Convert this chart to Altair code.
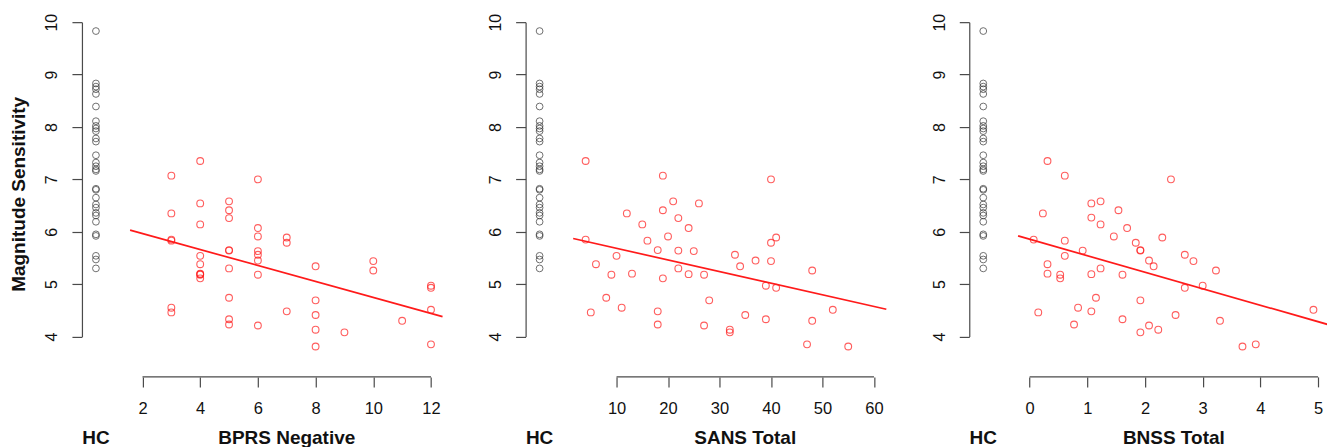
import altair as alt
import pandas as pd

# ---------------- data ----------------
hc_y = [9.83, 8.83, 8.77, 8.72, 8.63, 8.39, 8.11, 8.02, 7.97, 7.92, 7.78, 7.72,
        7.46, 7.32, 7.25, 7.19, 7.16, 6.82, 6.80, 6.65, 6.52, 6.46, 6.36, 6.31,
        6.19, 5.95, 5.92, 5.54, 5.47, 5.30]

bprs_x = [3, 3, 3, 3, 3, 3,
          4, 4, 4, 4, 4, 4, 4, 4, 4,
          5, 5, 5, 5, 5, 5, 5, 5, 5,
          6, 6, 6, 6, 6, 6, 6, 6,
          7, 7, 7,
          8, 8, 8, 8, 8,
          9,
          10, 10,
          11,
          12, 12, 12, 12]
bprs_y = [7.07, 6.35, 5.85, 5.83, 4.55, 4.46,
          7.35, 6.54, 6.14, 5.54, 5.38, 5.20, 5.19, 5.18, 5.11,
          6.58, 6.41, 6.26, 5.65, 5.64, 5.30, 4.74, 4.33, 4.23,
          7.00, 6.07, 5.91, 5.63, 5.56, 5.45, 5.18, 4.21,
          5.89, 5.79, 4.48,
          5.34, 4.69, 4.41, 4.13, 3.81,
          4.08,
          5.44, 5.26,
          4.30,
          4.97, 4.93, 4.51, 3.85]

sans_x = [4, 19, 40, 21, 26, 12, 19, 22, 15, 24, 20, 4, 16, 40, 41, 18, 22, 25,
          10, 33, 37, 40, 6, 34, 22, 9, 13, 24, 27, 19, 48, 39, 41, 8, 28, 11,
          5, 18, 52, 35, 39, 48, 18, 27, 32, 32, 47, 55]
sans_y = [7.35, 7.07, 7.00, 6.58, 6.54, 6.35, 6.41, 6.26, 6.14, 6.07, 5.91, 5.85,
          5.83, 5.79, 5.89, 5.65, 5.64, 5.63, 5.54, 5.56, 5.45, 5.44, 5.38, 5.34,
          5.30, 5.18, 5.20, 5.19, 5.18, 5.11, 5.26, 4.97, 4.93, 4.74, 4.69, 4.55,
          4.46, 4.48, 4.51, 4.41, 4.33, 4.30, 4.23, 4.21, 4.13, 4.08, 3.85, 3.81]

bnss_x = [0.31, 0.61, 2.45, 1.07, 1.23, 1.54, 0.23, 1.07, 1.23, 1.69, 1.46, 2.30,
          0.07, 0.61, 1.84, 1.92, 1.92, 0.92, 0.61, 0.31, 2.07, 2.15, 2.69, 2.84,
          3.23, 1.23, 0.31, 0.53, 0.53, 1.07, 1.61, 2.69, 3.00, 1.15, 1.92, 0.84,
          0.15, 1.07, 4.92, 2.53, 1.61, 3.30, 0.77, 2.07, 2.23, 1.92, 3.69, 3.92]
bnss_y = [7.35, 7.07, 7.00, 6.54, 6.58, 6.41, 6.35, 6.27, 6.14, 6.07, 5.91, 5.89,
          5.85, 5.83, 5.79, 5.65, 5.64, 5.64, 5.54, 5.38, 5.45, 5.34, 5.56, 5.44,
          5.26, 5.30, 5.20, 5.18, 5.11, 5.19, 5.18, 4.93, 4.97, 4.74, 4.69, 4.55,
          4.46, 4.48, 4.51, 4.41, 4.33, 4.30, 4.23, 4.21, 4.13, 4.08, 3.81, 3.85]

# regression line end points
bprs_line_x = [1.57, 12.40]
bprs_line_y = [6.03, 4.38]
sans_line_x = [1.58, 62.40]
sans_line_y = [5.87, 4.52]
bnss_line_x = [-0.20, 5.20]
bnss_line_y = [5.92, 4.22]

bprs_ticks = [2, 4, 6, 8, 10, 12]
sans_ticks = [10, 20, 30, 40, 50, 60]
bnss_ticks = [0, 1, 2, 3, 4, 5]
y_ticks = [4, 5, 6, 7, 8, 9, 10]

# ---------------- layout / style ----------------
FONT = "Liberation Sans"
W = 361
H = 314.6
X_OFF = 40.4          # x axis below the plot
HC_POS = 14           # HC column, px right of the y axis
AX = "#4a4a4a"
TXT = "#111111"
RED = "#ff1a1a"
PT_SIZE = 46


def panel(px, py, lx, ly, ticks, dom, title, ytitle):
    pts = pd.DataFrame({"x": px, "y": py})
    hc = pd.DataFrame({"y": hc_y})
    ln = pd.DataFrame({"x": lx, "y": ly})
    xs = alt.Scale(domain=dom, nice=False, zero=False)
    ys = alt.Scale(domain=[4, 10], nice=False, zero=False)

    xaxis = alt.Axis(values=ticks, domain=False, grid=False, tickSize=10,
                     tickColor=AX, tickWidth=1.2, offset=X_OFF,
                     labelPadding=26.6, labelBaseline="alphabetic",
                     labelFont=FONT, labelFontSize=16.5, labelColor=TXT,
                     title=None, format="d")
    yaxis = alt.Axis(values=y_ticks, domain=True, domainColor=AX, domainWidth=1.2,
                     grid=False, tickSize=10, tickColor=AX, tickWidth=1.2,
                     labelAngle=270, labelAlign="center", labelBaseline="alphabetic",
                     labelPadding=15, labelFont=FONT, labelFontSize=16,
                     labelColor=TXT, title=None, format="d")

    red = alt.Chart(pts).mark_point(shape="circle", filled=False, color=RED,
                                    size=PT_SIZE, strokeWidth=1.1).encode(
        x=alt.X("x:Q", scale=xs, axis=xaxis),
        y=alt.Y("y:Q", scale=ys, axis=yaxis))
    hcl = alt.Chart(hc).mark_point(shape="circle", filled=False, color="#333333",
                                   size=PT_SIZE, strokeWidth=1.0).encode(
        x=alt.value(HC_POS), y=alt.Y("y:Q"))
    line = alt.Chart(ln).mark_line(color=RED, strokeWidth=1.7).encode(
        x="x:Q", y="y:Q")
    xline = alt.Chart(pd.DataFrame({"a": [ticks[0]], "b": [ticks[-1]]})).mark_rule(
        color=AX, strokeWidth=1.2).encode(
        x="a:Q", x2="b:Q", y=alt.value(H + X_OFF))
    xt = alt.Chart(pd.DataFrame({"x": [(ticks[0] + ticks[-1]) / 2], "t": [title]})).mark_text(
        font=FONT, fontSize=19, fontWeight="bold", color=TXT, align="center",
        baseline="alphabetic").encode(x="x:Q", y=alt.value(422.3), text="t:N")
    hct = alt.Chart(pd.DataFrame({"t": ["HC"]})).mark_text(
        font=FONT, fontSize=19, fontWeight="bold", color=TXT, align="center",
        baseline="alphabetic").encode(x=alt.value(HC_POS), y=alt.value(422.3), text="t:N")
    layers = [hcl, red, line, xline, xt, hct]
    if ytitle:
        yt = alt.Chart(pd.DataFrame({"t": [ytitle]})).mark_text(
            font=FONT, fontSize=19, fontWeight="bold", color=TXT, align="center",
            baseline="alphabetic", angle=270).encode(
            x=alt.value(-56.7), y=alt.value(172.3), text="t:N")
        layers.append(yt)
    return alt.layer(*layers).properties(width=W, height=H)


p1 = panel(bprs_x, bprs_y, bprs_line_x, bprs_line_y, bprs_ticks,
           [-0.099, 12.405], "BPRS Negative", "Magnitude Sensitivity")
p2 = panel(sans_x, sans_y, sans_line_x, sans_line_y, sans_ticks,
           [-7.66, 62.40], "SANS Total", None)
p3 = panel(bnss_x, bnss_y, bnss_line_x, bnss_line_y, bnss_ticks,
           [-1.046, 5.207], "BNSS Total", None)

chart = alt.hconcat(p1, p2, p3, spacing=83, bounds="flush").configure_view(
    stroke=None).properties(padding={"left": 2, "top": 5, "right": -6, "bottom": 0},
                            background="white")

chart.save("out.html", embed_options={"renderer": "svg", "actions": False})
